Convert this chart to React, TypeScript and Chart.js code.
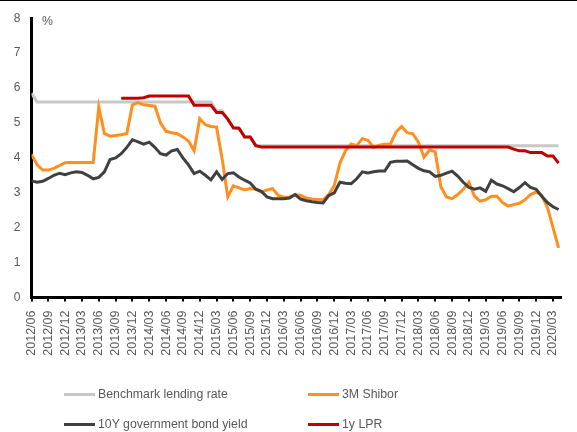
import React, { useEffect, useRef } from "react";
import { Chart, registerables } from "chart.js";

Chart.register(...registerables);

// Monthly data, first point = 2012/06, last point = 2020/04 (index 0..94)
const quarterLabels = [
  "2012/06", "2012/09", "2012/12", "2013/03", "2013/06", "2013/09", "2013/12", "2014/03",
  "2014/06", "2014/09", "2014/12", "2015/03", "2015/06", "2015/09", "2015/12", "2016/03",
  "2016/06", "2016/09", "2016/12", "2017/03", "2017/06", "2017/09", "2017/12", "2018/03",
  "2018/06", "2018/09", "2018/12", "2019/03", "2019/06", "2019/09", "2019/12", "2020/03",
];

const seriesNames = ["Benchmark lending rate", "3M Shibor", "10Y government bond yield", "1y LPR"];
const seriesColors = ["#C8C8C8", "#FF8F1F", "#404040", "#C00000"];

const benchmarkRate = [
  5.85, 5.6, 5.6, 5.6, 5.6, 5.6, 5.6, 5.6, 5.6, 5.6,
  5.6, 5.6, 5.6, 5.6, 5.6, 5.6, 5.6, 5.6, 5.6, 5.6,
  5.6, 5.6, 5.6, 5.6, 5.6, 5.6, 5.6, 5.6, 5.6, 5.6,
  5.6, 5.6, 5.6, 5.35, 5.35, 5.1, 4.85, 4.85, 4.6, 4.6,
  4.35, 4.35, 4.35, 4.35, 4.35, 4.35, 4.35, 4.35, 4.35, 4.35,
  4.35, 4.35, 4.35, 4.35, 4.35, 4.35, 4.35, 4.35, 4.35, 4.35,
  4.35, 4.35, 4.35, 4.35, 4.35, 4.35, 4.35, 4.35, 4.35, 4.35,
  4.35, 4.35, 4.35, 4.35, 4.35, 4.35, 4.35, 4.35, 4.35, 4.35,
  4.35, 4.35, 4.35, 4.35, 4.35, 4.35, 4.35, 4.35, 4.35, 4.35,
  4.35, 4.35, 4.35, 4.35, 4.35,
];

const shibor3M = [
  4.1, 3.8, 3.65, 3.65, 3.7, 3.78, 3.86, 3.87, 3.87, 3.87,
  3.87, 3.87, 5.45, 4.7, 4.62, 4.64, 4.66, 4.7, 5.52, 5.58,
  5.52, 5.5, 5.48, 5.0, 4.76, 4.72, 4.69, 4.6, 4.48, 4.2,
  5.12, 4.95, 4.9, 4.88, 3.97, 2.88, 3.2, 3.14, 3.08, 3.12,
  3.1, 3.02, 3.08, 3.12, 2.92, 2.87, 2.88, 2.94, 2.93, 2.85,
  2.82, 2.81, 2.8, 2.95, 3.21, 3.85, 4.2, 4.4, 4.35, 4.55,
  4.5, 4.3, 4.36, 4.39, 4.39, 4.74, 4.9, 4.72, 4.69, 4.45,
  4.02, 4.23, 4.17, 3.17, 2.88, 2.83, 2.95, 3.1, 3.3, 2.9,
  2.76, 2.8, 2.9, 2.9, 2.72, 2.62, 2.66, 2.7, 2.8, 2.95,
  3.02, 2.92, 2.58, 2.0, 1.42,
];

const bondYield10Y = [
  3.34, 3.3, 3.33, 3.41, 3.5, 3.56, 3.52, 3.57, 3.6, 3.58,
  3.5, 3.4, 3.44, 3.6, 3.95, 4.0, 4.12, 4.3, 4.52, 4.46,
  4.39, 4.45, 4.3, 4.12, 4.08, 4.2, 4.24, 4.0, 3.8, 3.55,
  3.62, 3.5, 3.37, 3.6, 3.38, 3.55, 3.57, 3.45, 3.36, 3.28,
  3.1, 3.04, 2.88, 2.83, 2.83, 2.83, 2.85, 2.95, 2.82, 2.77,
  2.74, 2.72, 2.71, 2.92, 3.0, 3.3, 3.27, 3.26, 3.4, 3.6,
  3.57, 3.6, 3.62, 3.62, 3.87, 3.9, 3.9, 3.91, 3.8, 3.7,
  3.63, 3.6, 3.47, 3.5, 3.56, 3.62, 3.48, 3.3, 3.15, 3.1,
  3.14, 3.04, 3.36, 3.25, 3.2, 3.12, 3.03, 3.15, 3.29, 3.15,
  3.1, 2.9, 2.72, 2.6, 2.52,
];

const lpr1Y = [
  null, null, null, null, null, null, null, null, null, null,
  null, null, null, null, null, null, 5.71, 5.71, 5.71, 5.71,
  5.72, 5.77, 5.77, 5.77, 5.77, 5.77, 5.77, 5.77, 5.77, 5.51,
  5.51, 5.51, 5.51, 5.3, 5.3, 5.11, 4.86, 4.85, 4.6, 4.6,
  4.35, 4.31, 4.31, 4.31, 4.31, 4.31, 4.31, 4.31, 4.31, 4.31,
  4.31, 4.31, 4.31, 4.31, 4.31, 4.31, 4.31, 4.31, 4.31, 4.31,
  4.31, 4.31, 4.31, 4.31, 4.31, 4.31, 4.31, 4.31, 4.31, 4.31,
  4.31, 4.31, 4.31, 4.31, 4.31, 4.31, 4.31, 4.31, 4.31, 4.31,
  4.31, 4.31, 4.31, 4.31, 4.31, 4.31, 4.25, 4.2, 4.2, 4.15,
  4.15, 4.15, 4.05, 4.05, 3.85,
];

const yTicks = [0, 1, 2, 3, 4, 5, 6, 7, 8];

const FONT = '"Liberation Sans", Arial, sans-serif';
const TEXT = "#595959";

const toPoints = (arr: (number | null)[]) => arr.map((v, i) => ({ x: i, y: v }));

export default function App() {
  const ref = useRef<HTMLCanvasElement | null>(null);

  useEffect(() => {
    const canvas = ref.current;
    if (!canvas) return;
    const allSeries = [benchmarkRate, shibor3M, bondYield10Y, lpr1Y];
    const drawOrder = [3, 2, 1, 0];
    const chart = new Chart(canvas, {
      type: "line",
      data: {
        datasets: allSeries.map((s, k) => ({
          label: seriesNames[k],
          data: toPoints(s) as any,
          borderColor: seriesColors[k],
          backgroundColor: seriesColors[k],
          borderWidth: 3,
          pointRadius: 0,
          tension: 0,
          fill: false,
          spanGaps: false,
          order: drawOrder[k],
        })),
      },
      options: {
        responsive: false,
        animation: false,
        layout: { padding: { top: 17, right: 0, bottom: 0, left: 0 } },
        plugins: {
          legend: { display: false },
          tooltip: { enabled: false },
        },
        scales: {
          x: {
            type: "linear",
            min: 0,
            max: 94.5,
            afterBuildTicks: (axis: any) => {
              axis.ticks = quarterLabels.map((_, k) => ({ value: k * 3 }));
            },
            afterFit: (s: any) => {
              s.height = 134.5;
            },
            ticks: {
              autoSkip: false,
              minRotation: 90,
              maxRotation: 90,
              padding: 9,
              color: TEXT,
              font: { family: FONT, size: 12.5 },
              callback: (_v: any, idx: number) => quarterLabels[idx],
            },
            grid: {
              display: true,
              drawOnChartArea: false,
              drawTicks: true,
              tickLength: 4,
              color: "#000",
              lineWidth: 2,
            },
            border: { display: true, color: "#000", width: 3 },
          },
          y: {
            min: 0,
            max: 8,
            afterBuildTicks: (axis: any) => {
              axis.ticks = yTicks.map((v) => ({ value: v }));
            },
            afterFit: (s: any) => {
              s.width = 31.5;
            },
            ticks: {
              padding: 11,
              color: TEXT,
              font: { family: FONT, size: 12 },
              callback: (v: any) => String(v),
            },
            grid: {
              display: true,
              drawOnChartArea: false,
              drawTicks: false,
              color: "#000",
            },
            border: { display: true, color: "#000", width: 3 },
          },
        },
      },
    });
    return () => chart.destroy();
  }, []);

  const legendPos = [
    { left: 64, top: 386 },
    { left: 308, top: 386 },
    { left: 64, top: 416 },
    { left: 308, top: 416 },
  ];

  return (
    <div
      style={{
        position: "absolute",
        left: 0,
        top: 0,
        width: 577,
        height: 432,
        background: "#fff",
        overflow: "hidden",
        fontFamily: FONT,
      }}
    >
      <canvas ref={ref} width={577} height={432} style={{ position: "absolute", left: 0, top: 0 }} />
      <div style={{ position: "absolute", left: 0, top: 0, width: 577, height: 1, background: "#000" }} />
      <span
        style={{
          position: "absolute",
          left: 42,
          top: 13,
          fontSize: 12.3,
          lineHeight: "16px",
          color: TEXT,
        }}
      >
        %
      </span>
      {seriesNames.map((name, k) => (
        <div
          key={name}
          style={{
            position: "absolute",
            left: legendPos[k].left,
            top: legendPos[k].top,
            height: 16,
            display: "flex",
            alignItems: "center",
            whiteSpace: "nowrap",
          }}
        >
          <div style={{ width: 31, height: 3, background: seriesColors[k], marginRight: 3 }} />
          <span style={{ fontSize: 12.3, lineHeight: "16px", color: TEXT }}>{name}</span>
        </div>
      ))}
    </div>
  );
}
